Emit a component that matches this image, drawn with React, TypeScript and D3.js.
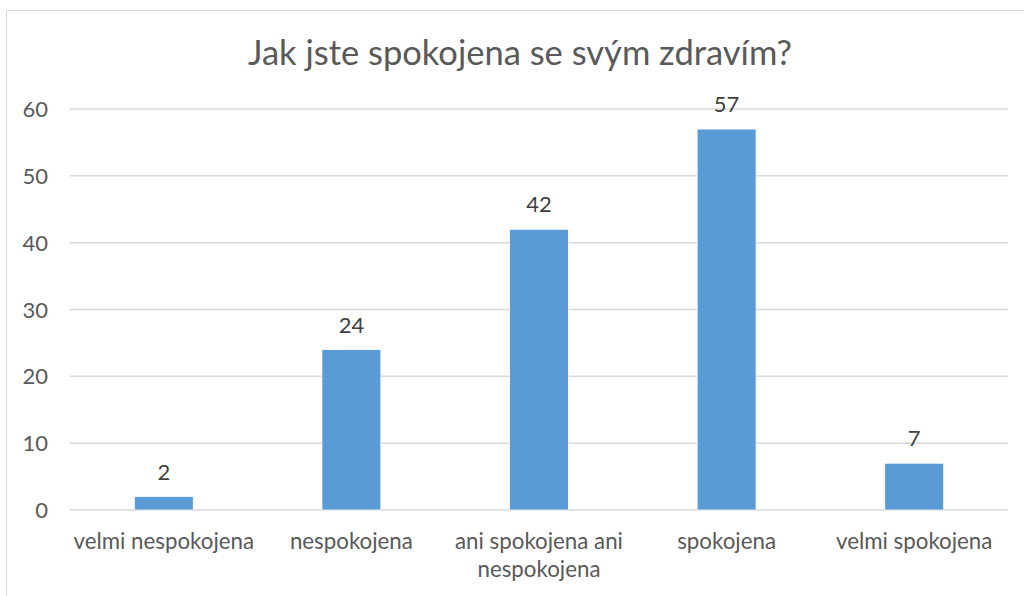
import React, { useEffect, useRef } from 'react';
import * as d3 from 'd3';

// answers and counts
const categories = [
  ['velmi nespokojena'],
  ['nespokojena'],
  ['ani spokojena ani', 'nespokojena'],
  ['spokojena'],
  ['velmi spokojena'],
];
const values = [2, 24, 42, 57, 7];
const yTicks = [0, 10, 20, 30, 40, 50, 60];
const title = 'Jak jste spokojena se svým zdravím?';

const W = 1024;
const H = 596;
const FONT = 'Lato, "Open Sans", sans-serif';

export default function App() {
  const ref = useRef<SVGSVGElement>(null);

  useEffect(() => {
    const svg = d3.select(ref.current);
    svg.selectAll('*').remove();

    const left = 70, right = 1008, top = 109, bottom = 510;

    // chart frame (only left and top edges are visible)
    svg.append('path')
      .attr('d', `M6.5,${H} V10.5 H${W}`)
      .attr('fill', 'none')
      .attr('stroke', '#d9d9d9')
      .attr('stroke-width', 1);

    svg.append('text')
      .attr('x', 520)
      .attr('y', 65)
      .attr('text-anchor', 'middle')
      .attr('font-family', FONT)
      .attr('font-size', 34.5)
      .attr('fill', '#595959')
      .text(title);

    const x = d3.scaleBand<number>()
      .domain(d3.range(values.length))
      .range([left, right])
      .paddingInner(0.686)
      .paddingOuter(0.343);

    const y = d3.scaleLinear().domain([0, 60]).range([bottom, top]);

    const grid = svg.append('g');
    yTicks.forEach(t => {
      grid.append('line')
        .attr('x1', left).attr('x2', right)
        .attr('y1', y(t)).attr('y2', y(t))
        .attr('stroke', '#d9d9d9')
        .attr('stroke-width', 1.5);
      grid.append('text')
        .attr('x', 48)
        .attr('y', y(t) + 8)
        .attr('text-anchor', 'end')
        .attr('font-family', FONT)
        .attr('font-size', 22)
        .attr('fill', '#595959')
        .text(t);
    });

    svg.append('g').selectAll('rect')
      .data(values)
      .enter()
      .append('rect')
      .attr('x', (d, i) => x(i)!)
      .attr('y', d => y(d))
      .attr('width', x.bandwidth())
      .attr('height', d => y(0) - y(d))
      .attr('fill', '#5b9bd5')
      .attr('stroke', '#ffffff')
      .attr('stroke-width', 0.75);

    svg.append('g').selectAll('text')
      .data(values)
      .enter()
      .append('text')
      .attr('x', (d, i) => x(i)! + x.bandwidth() / 2)
      .attr('y', d => y(d) - 17)
      .attr('text-anchor', 'middle')
      .attr('font-family', FONT)
      .attr('font-size', 22)
      .attr('fill', '#404040')
      .text(d => d);

    const cat = svg.append('g');
    categories.forEach((lines, i) => {
      const t = cat.append('text')
        .attr('text-anchor', 'middle')
        .attr('font-family', FONT)
        .attr('font-size', 22.3)
        .attr('fill', '#595959');
      lines.forEach((ln, j) => {
        t.append('tspan')
          .attr('x', x(i)! + x.bandwidth() / 2)
          .attr('y', 549 + j * 28)
          .text(ln);
      });
    });
  }, []);

  return (
    <svg ref={ref} width={W} height={H}
      style={{ position: 'absolute', left: 0, top: 0, background: '#fff' }} />
  );
}
